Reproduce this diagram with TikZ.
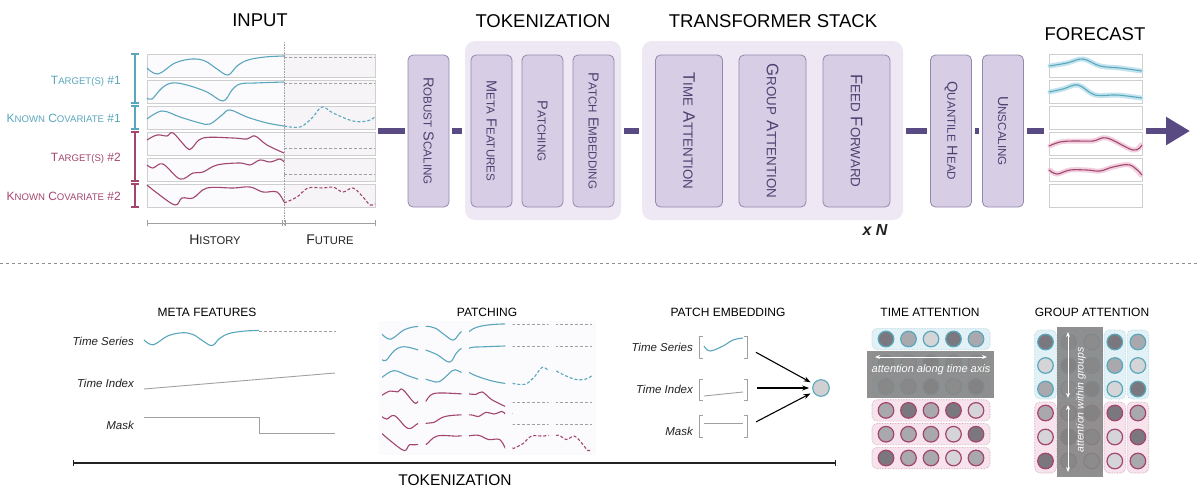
\documentclass[tikz,border=0pt]{standalone}
\usepackage{fontspec}
\setmainfont{Liberation Sans}
\usetikzlibrary{arrows.meta,calc}
\definecolor{cteal}{HTML}{5AA7BD}
\definecolor{cmar}{HTML}{A3466F}
\definecolor{barc}{HTML}{5A4A83}
\definecolor{boxfill}{HTML}{D7CDE5}
\definecolor{boxdraw}{HTML}{9489AB}
\definecolor{grpfill}{HTML}{EDE8F4}
\definecolor{boxtext}{HTML}{4E4270}
\definecolor{lgray}{HTML}{A0A0A0}
\definecolor{pnl}{HTML}{CFCFCF}
\definecolor{futbg}{HTML}{F6F4F7}
\definecolor{hisbg}{HTML}{FBFAFC}
\definecolor{cellbg}{HTML}{FBFAFC}
\definecolor{cD}{HTML}{7A787E}
\definecolor{cM}{HTML}{A9A8AD}
\definecolor{cL}{HTML}{D5D4D7}
\definecolor{tealbg}{HTML}{E2F1F6}
\definecolor{marbg}{HTML}{F6E3EC}
\definecolor{bandc}{HTML}{858585}
\definecolor{tband}{HTML}{C3E4EE}
\definecolor{mband}{HTML}{F1CFDE}
\definecolor{embc}{HTML}{D0D0D3}
\definecolor{txt}{HTML}{222222}
\newcommand\fsc[2]{#1\scalebox{0.8}{#2}}
\newcommand\inputcurves{%
 \draw[tcurve] plot[smooth, tension=0.6] coordinates {(147,68) (158,74) (175,63) (192,59) (205,61) (217,69) (228,75) (237,66) (248,60) (265,57) (284,56)};
 \draw[gdash] (284,57) -- (375,57);
 \draw[tcurve] plot[smooth, tension=0.6] coordinates {(147,98) (152,99) (162,88) (172,83) (187,85) (207,92) (223,101) (232,90) (240,84) (255,83) (284,82)};
 \draw[gdash] (284,83) -- (375,83);
 \draw[tcurve] plot[smooth, tension=0.6] coordinates {(147,119) (162,111) (180,117) (200,123) (210,124) (222,115) (230,110) (247,117) (267,123) (284,126)};
 \draw[tcurve, dashed, dash pattern=on 3pt off 2pt] plot[smooth, tension=0.6] coordinates {(284,126) (300,127) (312,118) (322,107) (333,113) (353,121) (367,121) (375,117)};
 \draw[mcurve] plot[smooth, tension=0.6] coordinates {(147,140) (157,135) (167,136) (173,133) (187,148) (192,148) (203,138) (233,138) (247,139) (255,136) (267,145) (284,153)};
 \draw[gdash] (284,148) -- (375,148);
 \draw[mcurve] plot[smooth, tension=0.6] coordinates {(147,165) (153,168) (163,164) (180,179) (193,173) (203,172) (217,165) (240,163) (250,165) (260,160) (270,162) (280,159) (284,162)};
 \draw[gdash] (284,174) -- (375,174);
 \draw[mcurve] plot[smooth, tension=0.6] coordinates {(147,185) (157,193) (175,205) (182,198) (193,198) (207,188) (233,188) (250,187) (263,192) (277,192) (284,202)};
 \draw[mcurve, dashed, dash pattern=on 3pt off 2pt] plot[smooth, tension=0.6] coordinates {(284,203) (297,197) (308,188) (323,188) (333,187) (343,192) (353,188) (363,197) (370,205) (375,204)};
}
\begin{document}
\begin{tikzpicture}[x=1pt,y=-1pt,
  tcurve/.style={cteal, line width=1.1},
  mcurve/.style={cmar, line width=1.1},
  gdash/.style={lgray, dashed, dash pattern=on 3pt off 2pt, line width=0.9},
  ttl/.style={text=black, font=\fontsize{18.5}{20}\selectfont},
  subttl/.style={text=black, font=\fontsize{12}{14}\selectfont},
  lbl/.style={font=\fontsize{12}{14}\selectfont, inner sep=0},
  itl/.style={text=txt, font=\fontsize{11.5}{13}\selectfont\itshape, inner sep=0},
  grp/.style={fill=grpfill, rounded corners=10, inner sep=0, minimum height=179},
  blk/.style={fill=boxfill, draw=boxdraw, line width=0.8, rounded corners=5, inner sep=0, minimum width=41, minimum height=152},
  bigblk/.style={blk, minimum width=67},
  blabel/.style={rotate=-90, text=boxtext, font=\fontsize{14.5}{16}\selectfont, inner sep=0},
  bigblabel/.style={blabel, font=\fontsize{16.7}{18}\selectfont},
  bar/.style={barc, line width=5.5, shorten <=3, shorten >=3},
  bgray/.style={lgray, line width=0.9},
  earrow/.style={black, line width=1.1, -{Stealth[length=7,width=5]}},
]
\useasboundingbox (0,0) rectangle (1200,496);
\fill[white] (0,0) rectangle (1200,496);

% ---------- titles
\node[ttl] (tIn) at (260,20.5) {INPUT};
\node[ttl] (tTok) at (543,21) {TOKENIZATION};
\node[ttl] (tTr) at (773,21) {TRANSFORMER STACK};
\node[ttl] (tFc) at (1095,34) {FORECAST};

% ---------- input and forecast panels
\foreach \r in {0,...,5}{
  \pgfmathsetmacro\yt{54+26*\r}
  \fill[hisbg] (147,\yt) rectangle (284,\yt+23);
  \fill[futbg] (284,\yt) rectangle (375,\yt+23);
  \draw[pnl, line width=0.6] (147,\yt) rectangle (375,\yt+23);
  \fill[white] (1049,\yt) rectangle (1142,\yt+23);
  \draw[pnl, line width=0.6] (1049,\yt) rectangle (1142,\yt+23);
}
\draw[lgray, densely dotted, line width=0.6] (284,42) -- (284,226);
\inputcurves

% brackets and labels
\draw[cteal, line width=1.1] (131,54)--(139,54) (135,54)--(135,103) (131,103)--(139,103);
\draw[cteal, line width=1.1] (131,106)--(139,106) (135,106)--(135,129) (131,129)--(139,129);
\draw[cmar, line width=1.1] (131,132)--(139,132) (135,132)--(135,181) (131,181)--(139,181);
\draw[cmar, line width=1.1] (131,184)--(139,184) (135,184)--(135,207) (131,207)--(139,207);
\node[lbl, text=cteal, anchor=east] (lT1) at (121,81) {\fsc{T}{ARGET(S)} \#1};
\node[lbl, text=cteal, anchor=east] (lK1) at (121,118) {\fsc{K}{NOWN} \fsc{C}{OVARIATE} \#1};
\node[lbl, text=cmar, anchor=east] (lT2) at (121,158) {\fsc{T}{ARGET(S)} \#2};
\node[lbl, text=cmar, anchor=east] (lK2) at (121,196) {\fsc{K}{NOWN} \fsc{C}{OVARIATE} \#2};

% time line
\draw[lgray, line width=0.6] (147,223) -- (375,223);
\draw[lgray, line width=0.6] (147,220)--(147,226) (375,220)--(375,226) (282.5,220)--(282.5,226) (285.5,220)--(285.5,226);
\node[lbl, text=txt, font=\fontsize{14}{16}\selectfont] (hist) at (215,240) {\fsc{H}{ISTORY}};
\node[lbl, text=txt, font=\fontsize{14}{16}\selectfont] (fut) at (330,240) {\fsc{F}{UTURE}};

% ---------- pipeline
\node[grp, minimum width=156] (gTok) at (543,130.5) {};
\node[grp, minimum width=261] (gTr) at (772.5,130.5) {};
\node[blk] (rs) at (428.5,131) {};
\node[blabel] (rsL) at (rs) {\fsc{R}{OBUST} \fsc{S}{CALING}};
\node[blk] (mf) at (491.5,131) {};
\node[blabel] (mfL) at (mf) {\fsc{M}{ETA} \fsc{F}{EATURES}};
\node[blk] (pa) at (542.5,131) {};
\node[blabel] (paL) at (pa) {\fsc{P}{ATCHING}};
\node[blk] (pe) at (593.5,131) {};
\node[blabel] (peL) at (pe) {\fsc{P}{ATCH} \fsc{E}{MBEDDING}};
\node[bigblk] (ta) at (689,131) {};
\node[bigblabel] (taL) at (ta) {\fsc{T}{IME} \fsc{A}{TTENTION}};
\node[bigblk] (ga) at (772.5,131) {};
\node[bigblabel] (gaL) at (ga) {\fsc{G}{ROUP} \fsc{A}{TTENTION}};
\node[bigblk] (ff) at (856.5,131) {};
\node[bigblabel] (ffL) at (ff) {\fsc{F}{EED} \fsc{F}{ORWARD}};
\node[blk] (qh) at (951,131) {};
\node[blabel] (qhL) at (qh) {\fsc{Q}{UANTILE} \fsc{H}{EAD}};
\node[blk] (un) at (1003,131) {};
\node[blabel] (unL) at (un) {\fsc{U}{NSCALING}};
\node[text=txt, font=\fontsize{16}{18}\selectfont\bfseries\itshape] (xn) at (875,230) {x N};

\coordinate (inE) at (375,131);
\coordinate (fcW) at (1049,131);
\coordinate (fcE) at (1142,131);
\coordinate (arrEnd) at (1190,131);
\draw[bar] (inE) -- (inE -| rs.west);
\draw[bar] (rs.east) -- (rs.east -| gTok.west);
\draw[bar] (gTok.east |- rs.east) -- (rs.east -| gTr.west);
\draw[bar] (gTr.east |- rs.east) -- (qh.west);
\draw[bar] (qh.east) -- (un.west);
\draw[bar, shorten >=5] (un.east) -- (fcW);
\draw[barc, line width=5.5, shorten <=4, -{Triangle[length=24,width=27]}] (fcE) -- (arrEnd);

% forecast curves
\draw[tband, line width=5, line cap=round] plot[smooth, tension=0.6] coordinates {(1050,66) (1067,63) (1083,59) (1100,66) (1120,68) (1141,71)};
\draw[tcurve] plot[smooth, tension=0.6] coordinates {(1049,66) (1067,63) (1083,59) (1100,66) (1120,68) (1142,71)};
\draw[tband, line width=5, line cap=round] plot[smooth, tension=0.6] coordinates {(1050,92) (1063,89) (1078,85) (1095,95) (1117,95) (1141,98)};
\draw[tcurve] plot[smooth, tension=0.6] coordinates {(1049,92) (1063,89) (1078,85) (1095,95) (1117,95) (1142,98)};
\draw[mband, line width=5, line cap=round] plot[smooth, tension=0.6] coordinates {(1050,146) (1060,142) (1073,141) (1093,141) (1107,138) (1133,150) (1141,145)};
\draw[mcurve] plot[smooth, tension=0.6] coordinates {(1049,146) (1060,142) (1073,141) (1093,141) (1107,138) (1133,150) (1142,145)};
\draw[mband, line width=5, line cap=round] plot[smooth, tension=0.6] coordinates {(1050,170) (1057,174) (1070,170) (1087,170) (1100,171) (1113,167) (1130,165) (1141,175)};
\draw[mcurve] plot[smooth, tension=0.6] coordinates {(1049,170) (1057,174) (1070,170) (1087,170) (1100,171) (1113,167) (1130,165) (1142,175)};

% ---------- separator
\draw[lgray!120, line width=0.8, dash pattern=on 3pt off 3pt] (0,263) -- (1200,263);

% ---------- META FEATURES
\node[subttl] (tMF) at (207,312) {META FEATURES};
\node[itl, anchor=east] (mfTS) at (134,341) {Time Series};
\node[itl, anchor=east] (mfTI) at (134,383) {Time Index};
\node[itl, anchor=east] (mfMK) at (134,425) {Mask};
\begin{scope}[shift={(144-147*0.84, 338-65.5*0.8)}, xscale=0.84, yscale=0.8]
  \clip (146,50) rectangle (376,79);
  \draw[tcurve] plot[smooth, tension=0.6] coordinates {(147,68) (158,74) (175,63) (192,59) (205,61) (217,69) (228,75) (237,66) (248,60) (265,57) (284,56)};
  \draw[gdash] (284,57) -- (375,57);
\end{scope}
\draw[bgray] (144,389) -- (335,373);
\draw[bgray] (144,417) -- (259,417) -- (259,433) -- (335,433);

% ---------- PATCHING
\node[subttl] (tPA) at (487,312) {PATCHING};
\fill[cellbg] (379,321) rectangle (596,455);
\foreach \k in {0,...,4}{
  \pgfmathsetmacro\cx{382+43.5*\k}
  \pgfmathsetmacro\ax{147+45.67*\k}
  \begin{scope}[shift={(\cx-\ax*0.79, 276.3)}, xscale=0.79, yscale=0.85]
    \clip (\ax,40) rectangle (\ax+45.67,215);
    \inputcurves
  \end{scope}
}

% ---------- PATCH EMBEDDING
\node[subttl] (tPE) at (728,312) {PATCH EMBEDDING};
\node[itl, anchor=east] (peTSl) at (693,347) {Time Series};
\node[itl, anchor=east] (peTIl) at (693,389) {Time Index};
\node[itl, anchor=east] (peMKl) at (693,431) {Mask};
\node[minimum width=47, minimum height=21, inner sep=0] (peTS) at (723.5,347.5) {};
\node[minimum width=47, minimum height=21, inner sep=0] (peTI) at (723.5,390) {};
\node[minimum width=47, minimum height=21, inner sep=0] (peMK) at (723.5,426.5) {};
\foreach \b in {peTS,peTI,peMK}{
  \draw[lgray, line width=0.9] ([xshift=3]\b.north west) -- (\b.north west) -- (\b.south west) -- ([xshift=3]\b.south west);
  \draw[lgray, line width=0.9] ([xshift=-3]\b.north east) -- (\b.north east) -- (\b.south east) -- ([xshift=-3]\b.south east);
}
\draw[tcurve] plot[smooth, tension=0.6] coordinates {(704,346) (710,351) (723,346) (733,340) (743,338)};
\draw[bgray] (704,396) -- (743,392);
\draw[bgray] (704,423) -- (743,423);
\node[circle, draw=cteal, fill=embc, line width=1.1, minimum size=16.6, inner sep=0] (emb) at (821,388) {};
\draw[earrow, shorten <=10, shorten >=3] (peTS.east) -- (emb);
\draw[earrow, shorten <=10, shorten >=3] (peTI.east |- emb) -- (emb);
\draw[earrow, shorten <=10, shorten >=3] (peMK.east) -- (emb);

% ---------- TIME ATTENTION
\node[subttl] (tTA) at (930,312) {TIME ATTENTION};
\foreach \r/\sh in {0/{D,M,L,D,M},1/{M,L,D,M,L},2/{M,M,D,L,D},3/{M,D,M,D,L},4/{M,M,M,L,D},5/{D,M,M,L,M}}{
  \pgfmathsetmacro\cy{339+23.8*\r}
  \ifnum\r<3 \def\bc{cteal}\def\bg{tealbg}\else\def\bc{cmar}\def\bg{marbg}\fi
  \draw[draw=\bc!55, densely dotted, fill=\bg, rounded corners=5, line width=0.6] (872,\cy-10.7) rectangle (990,\cy+10.7);
  \foreach \s [count=\i from 0] in \sh {
    \draw[draw=\bc, fill=c\s, line width=1.2] (886+22.5*\i,\cy) circle (7.8);
  }
}
\fill[bandc, opacity=0.9] (867,351) rectangle (994,398);
\coordinate (taA) at (875,357);
\coordinate (taB) at (987,357);
\draw[white, line width=1, {Stealth[length=5,width=4]}-{Stealth[length=5,width=4]}] (taA) -- (taB);
\node[text=white, font=\fontsize{11}{12}\selectfont\itshape] (taTxt) at (931,369.5) {attention along time axis};

% ---------- GROUP ATTENTION
\node[subttl] (tGA) at (1092,312) {GROUP ATTENTION};
\foreach \j/\sh in {0/{D,L,M,M,L,D},1/{M,D,L,M,D,M},2/{L,M,D,D,M,L},3/{D,M,L,D,L,L},4/{M,L,D,M,D,M}}{
  \pgfmathsetmacro\cx{1045.5+23.1*\j}
  \draw[draw=cteal!55, densely dotted, fill=tealbg, rounded corners=5, line width=0.6] (\cx-10.8,330) rectangle (\cx+10.8,399);
  \draw[draw=cmar!55, densely dotted, fill=marbg, rounded corners=5, line width=0.6] (\cx-10.8,402) rectangle (\cx+10.8,473);
  \foreach \s [count=\i from 0] in \sh {
    \pgfmathsetmacro\cyy{\i<3 ? 342+23.5*\i : 413+24*(\i-3)}
    \ifnum\i<3 \def\bc{cteal}\else\def\bc{cmar}\fi
    \draw[draw=\bc, fill=c\s, line width=1.2] (\cx,\cyy) circle (7.8);
  }
}
\fill[bandc, opacity=0.9] (1057,327) rectangle (1103,477);
\coordinate (gaA) at (1068,332);
\coordinate (gaB) at (1068,398);
\coordinate (gaC) at (1068,405);
\coordinate (gaD) at (1068,472);
\draw[white, line width=1, {Stealth[length=5,width=4]}-{Stealth[length=5,width=4]}] (gaA) -- (gaB);
\draw[white, line width=1, {Stealth[length=5,width=4]}-{Stealth[length=5,width=4]}] (gaC) -- (gaD);
\node[text=white, rotate=90, font=\fontsize{10.5}{12}\selectfont\itshape] (gaTxt) at (1081,400) {attention within groups};

% ---------- bottom time line
\coordinate (tlA) at (73,463);
\coordinate (tlB) at (836,463);
\draw[txt, line width=1.3, {Bar[width=6]}-{Bar[width=6]}] (tlA) -- (tlB);
\node[text=black, font=\fontsize{15.5}{17}\selectfont] (tTok2) at (455,480) {TOKENIZATION};
\end{tikzpicture}
\end{document}
